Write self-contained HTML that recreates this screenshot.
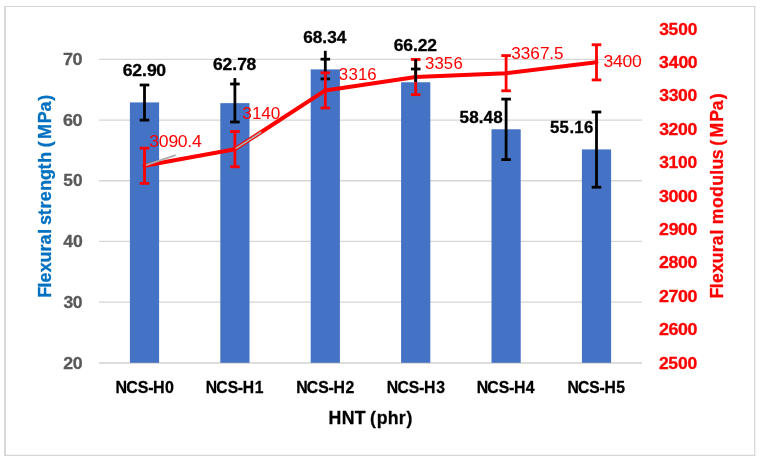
<!DOCTYPE html>
<html><head><meta charset="utf-8"><title>Flexural strength and modulus</title>
<style>
html,body{margin:0;padding:0;background:#fff;}
svg{display:block;font-family:"Liberation Sans",sans-serif;}
</style></head><body>
<svg width="762" height="461" viewBox="0 0 762 461">
<rect width="762" height="461" fill="#fff"/>
<line x1="5" x2="5" y1="5.9" y2="455.9" stroke="#d2d2d2" stroke-width="1.7"/>
<line x1="4.2" x2="755.3" y1="6.5" y2="6.5" stroke="#d6d6d6" stroke-width="1.1"/>
<line x1="754.7" x2="754.7" y1="5.9" y2="455.9" stroke="#d6d6d6" stroke-width="1.25"/>
<line x1="4.2" x2="755.3" y1="455.3" y2="455.3" stroke="#d6d6d6" stroke-width="1.25"/>
<line x1="99.0" x2="642.0" y1="363" y2="363" stroke="#d2d2d2" stroke-width="1.5"/>
<line x1="99.0" x2="642.0" y1="302.18" y2="302.18" stroke="#d6d6d6" stroke-width="1.3"/>
<line x1="99.0" x2="642.0" y1="241.46" y2="241.46" stroke="#d6d6d6" stroke-width="1.3"/>
<line x1="99.0" x2="642.0" y1="180.75" y2="180.75" stroke="#d6d6d6" stroke-width="1.3"/>
<line x1="99.0" x2="642.0" y1="120.03" y2="120.03" stroke="#d6d6d6" stroke-width="1.3"/>
<line x1="99.0" x2="642.0" y1="59.31" y2="59.31" stroke="#d6d6d6" stroke-width="1.3"/>
<rect x="129.90" y="102.42" width="29.2" height="260.38" fill="#4472c4"/>
<rect x="220.30" y="103.15" width="29.2" height="259.65" fill="#4472c4"/>
<rect x="310.70" y="69.39" width="29.2" height="293.41" fill="#4472c4"/>
<rect x="401.10" y="82.26" width="29.2" height="280.54" fill="#4472c4"/>
<rect x="491.50" y="129.26" width="29.2" height="233.54" fill="#4472c4"/>
<rect x="581.90" y="149.41" width="29.2" height="213.39" fill="#4472c4"/>
<line x1="144.50" x2="144.50" y1="85.00" y2="120.10" stroke="#000" stroke-width="2.8"/>
<line x1="139.70" x2="149.30" y1="85.00" y2="85.00" stroke="#000" stroke-width="2.8"/>
<line x1="139.70" x2="149.30" y1="120.10" y2="120.10" stroke="#000" stroke-width="2.8"/>
<line x1="234.90" x2="234.90" y1="78.10" y2="122.00" stroke="#000" stroke-width="2.8"/>
<line x1="230.10" x2="239.70" y1="84.00" y2="84.00" stroke="#000" stroke-width="2.8"/>
<line x1="230.10" x2="239.70" y1="122.00" y2="122.00" stroke="#000" stroke-width="2.8"/>
<line x1="325.30" x2="325.30" y1="50.80" y2="78.90" stroke="#000" stroke-width="2.8"/>
<line x1="320.50" x2="330.10" y1="59.20" y2="59.20" stroke="#000" stroke-width="2.8"/>
<line x1="320.50" x2="330.10" y1="78.90" y2="78.90" stroke="#000" stroke-width="2.8"/>
<line x1="506.10" x2="506.10" y1="99.10" y2="159.60" stroke="#000" stroke-width="2.8"/>
<line x1="501.30" x2="510.90" y1="99.10" y2="99.10" stroke="#000" stroke-width="2.8"/>
<line x1="501.30" x2="510.90" y1="159.60" y2="159.60" stroke="#000" stroke-width="2.8"/>
<line x1="596.50" x2="596.50" y1="112.00" y2="187.20" stroke="#000" stroke-width="2.8"/>
<line x1="591.70" x2="601.30" y1="112.00" y2="112.00" stroke="#000" stroke-width="2.8"/>
<line x1="591.70" x2="601.30" y1="187.20" y2="187.20" stroke="#000" stroke-width="2.8"/>
<polyline points="144.50,165.74 234.90,149.17 325.30,90.40 415.70,77.04 506.10,73.20 596.50,62.34" fill="none" stroke="#ff0000" stroke-width="4" stroke-linejoin="round" stroke-linecap="round"/>
<line x1="144.50" x2="144.50" y1="148.14" y2="183.34" stroke="#ff0000" stroke-width="2.8"/>
<line x1="139.70" x2="149.30" y1="148.14" y2="148.14" stroke="#ff0000" stroke-width="2.8"/>
<line x1="139.70" x2="149.30" y1="183.34" y2="183.34" stroke="#ff0000" stroke-width="2.8"/>
<line x1="234.90" x2="234.90" y1="131.57" y2="166.77" stroke="#ff0000" stroke-width="2.8"/>
<line x1="230.10" x2="239.70" y1="131.57" y2="131.57" stroke="#ff0000" stroke-width="2.8"/>
<line x1="230.10" x2="239.70" y1="166.77" y2="166.77" stroke="#ff0000" stroke-width="2.8"/>
<line x1="325.30" x2="325.30" y1="72.80" y2="108.00" stroke="#ff0000" stroke-width="2.8"/>
<line x1="320.50" x2="330.10" y1="72.80" y2="72.80" stroke="#ff0000" stroke-width="2.8"/>
<line x1="320.50" x2="330.10" y1="108.00" y2="108.00" stroke="#ff0000" stroke-width="2.8"/>
<line x1="415.70" x2="415.70" y1="59.44" y2="94.64" stroke="#ff0000" stroke-width="2.8"/>
<line x1="410.90" x2="420.50" y1="59.44" y2="59.44" stroke="#ff0000" stroke-width="2.8"/>
<line x1="410.90" x2="420.50" y1="94.64" y2="94.64" stroke="#ff0000" stroke-width="2.8"/>
<line x1="506.10" x2="506.10" y1="55.60" y2="90.80" stroke="#ff0000" stroke-width="2.8"/>
<line x1="501.30" x2="510.90" y1="55.60" y2="55.60" stroke="#ff0000" stroke-width="2.8"/>
<line x1="501.30" x2="510.90" y1="90.80" y2="90.80" stroke="#ff0000" stroke-width="2.8"/>
<line x1="596.50" x2="596.50" y1="44.74" y2="79.94" stroke="#ff0000" stroke-width="2.8"/>
<line x1="591.70" x2="601.30" y1="44.74" y2="44.74" stroke="#ff0000" stroke-width="2.8"/>
<line x1="591.70" x2="601.30" y1="79.94" y2="79.94" stroke="#ff0000" stroke-width="2.8"/>
<line x1="415.70" x2="415.70" y1="59.20" y2="82.00" stroke="#000" stroke-width="2.8"/>
<line x1="410.90" x2="420.50" y1="69.00" y2="69.00" stroke="#000" stroke-width="2.8"/>
<line x1="146" y1="165.2" x2="175.7" y2="155.2" stroke="#ababab" stroke-width="1.8"/>
<line x1="235.8" y1="148.6" x2="261.3" y2="132.1" stroke="#ababab" stroke-width="1.8"/>
<text transform="translate(123.33,75.50) scale(1.0278,1)" x="-0.57 8.64 18.07 23.01 32.11" font-size="17.15" font-weight="bold" fill="#000" stroke="#000" stroke-width="0.3">62.90</text>
<text transform="translate(213.72,70.20) scale(1.0214,1)" x="-0.68 8.59 18.07 22.93 32.12" font-size="17.15" font-weight="bold" fill="#000" stroke="#000" stroke-width="0.3">62.78</text>
<text transform="translate(303.98,42.60) scale(1.0066,1)" x="-0.73 8.63 18.26 23.07 32.62" font-size="17.15" font-weight="bold" fill="#000" stroke="#000" stroke-width="0.3">68.34</text>
<text transform="translate(394.47,51.00) scale(1.0220,1)" x="-0.67 8.66 18.07 22.83 32.16" font-size="17.15" font-weight="bold" fill="#000" stroke="#000" stroke-width="0.3">66.22</text>
<text transform="translate(460.08,123.10) scale(0.9917,1)" x="-0.64 9.19 18.93 23.69 33.49" font-size="17.15" font-weight="bold" fill="#000" stroke="#000" stroke-width="0.3">58.48</text>
<text transform="translate(550.51,132.60) scale(0.9771,1)" x="-0.50 9.25 19.33 24.36 34.23" font-size="17.15" font-weight="bold" fill="#000" stroke="#000" stroke-width="0.3">55.16</text>
<text transform="translate(150.05,147.00) scale(1.0508,1)" x="-0.73 8.21 17.55 26.35 35.47 39.99" font-size="16.77" font-weight="normal" fill="#ff0000">3090.4</text>
<text transform="translate(242.97,118.90) scale(1.0254,1)" x="-0.61 8.71 17.91 27.14" font-size="16.77" font-weight="normal" fill="#ff0000">3140</text>
<text transform="translate(339.45,79.80) scale(1.0033,1)" x="-0.58 8.92 18.45 27.82" font-size="16.77" font-weight="normal" fill="#ff0000">3316</text>
<text transform="translate(425.55,68.80) scale(0.9964,1)" x="-0.55 9.01 18.33 28.05" font-size="16.77" font-weight="normal" fill="#ff0000">3356</text>
<text transform="translate(512.15,58.50) scale(1.0235,1)" x="-0.83 8.48 17.70 27.11 36.28 40.82" font-size="16.77" font-weight="normal" fill="#ff0000">3367.5</text>
<text transform="translate(604.22,66.90) scale(1.0466,1)" x="-0.69 8.35 17.39 26.50" font-size="16.77" font-weight="normal" fill="#ff0000">3400</text>
<text transform="translate(63.78,368.50) scale(1.0361,1)" x="-0.59 8.58" font-size="17.15" font-weight="bold" fill="#595959" stroke="#595959" stroke-width="0.3">20</text>
<text transform="translate(63.81,307.78) scale(1.0233,1)" x="-0.39 8.73" font-size="17.15" font-weight="bold" fill="#595959" stroke="#595959" stroke-width="0.3">30</text>
<text transform="translate(63.53,247.06) scale(1.0303,1)" x="-0.37 9.27" font-size="17.15" font-weight="bold" fill="#595959" stroke="#595959" stroke-width="0.3">40</text>
<text transform="translate(63.74,186.35) scale(1.0063,1)" x="-0.53 9.18" font-size="17.15" font-weight="bold" fill="#595959" stroke="#595959" stroke-width="0.3">50</text>
<text transform="translate(63.77,125.63) scale(1.0496,1)" x="-0.68 8.42" font-size="17.15" font-weight="bold" fill="#595959" stroke="#595959" stroke-width="0.3">60</text>
<text transform="translate(63.84,64.91) scale(1.0517,1)" x="-0.75 8.21" font-size="17.15" font-weight="bold" fill="#595959" stroke="#595959" stroke-width="0.3">70</text>
<text transform="translate(659.55,368.50) scale(1.0210,1)" x="-0.57 8.64 18.14 27.47" font-size="17.15" font-weight="bold" fill="#ff0000" stroke="#ff0000" stroke-width="0.3">2500</text>
<text transform="translate(659.55,335.11) scale(1.0428,1)" x="-0.62 8.55 17.65 26.77" font-size="17.15" font-weight="bold" fill="#ff0000" stroke="#ff0000" stroke-width="0.3">2600</text>
<text transform="translate(659.55,301.71) scale(1.0438,1)" x="-0.62 8.60 17.61 26.74" font-size="17.15" font-weight="bold" fill="#ff0000" stroke="#ff0000" stroke-width="0.3">2700</text>
<text transform="translate(659.55,268.31) scale(1.0345,1)" x="-0.59 8.58 17.81 27.02" font-size="17.15" font-weight="bold" fill="#ff0000" stroke="#ff0000" stroke-width="0.3">2800</text>
<text transform="translate(659.55,234.92) scale(1.0303,1)" x="-0.57 8.88 17.98 27.15" font-size="17.15" font-weight="bold" fill="#ff0000" stroke="#ff0000" stroke-width="0.3">2900</text>
<text transform="translate(659.58,201.52) scale(1.0483,1)" x="-0.54 8.55 17.57 26.64" font-size="17.15" font-weight="bold" fill="#ff0000" stroke="#ff0000" stroke-width="0.3">3000</text>
<text transform="translate(659.58,168.13) scale(1.0176,1)" x="-0.37 8.76 18.17 27.54" font-size="17.15" font-weight="bold" fill="#ff0000" stroke="#ff0000" stroke-width="0.3">3100</text>
<text transform="translate(659.58,134.73) scale(1.0296,1)" x="-0.44 8.75 17.93 27.18" font-size="17.15" font-weight="bold" fill="#ff0000" stroke="#ff0000" stroke-width="0.3">3200</text>
<text transform="translate(659.58,101.34) scale(1.0233,1)" x="-0.42 8.98 18.10 27.38" font-size="17.15" font-weight="bold" fill="#ff0000" stroke="#ff0000" stroke-width="0.3">3300</text>
<text transform="translate(659.58,67.94) scale(1.0269,1)" x="-0.68 8.85 18.49 27.52" font-size="17.15" font-weight="bold" fill="#ff0000" stroke="#ff0000" stroke-width="0.3">3400</text>
<text transform="translate(659.58,34.55) scale(1.0148,1)" x="-0.44 8.84 18.31 27.70" font-size="17.15" font-weight="bold" fill="#ff0000" stroke="#ff0000" stroke-width="0.3">3500</text>
<text transform="translate(116.47,393.20) scale(0.9356,1)" x="-1.00 10.49 22.87 33.93 38.93 51.79" font-size="17.15" font-weight="bold" fill="#000" stroke="#000" stroke-width="0.3">NCS-H0</text>
<text transform="translate(206.73,393.20) scale(0.9165,1)" x="-1.02 10.48 22.88 33.96 39.42 52.50" font-size="17.15" font-weight="bold" fill="#000" stroke="#000" stroke-width="0.3">NCS-H1</text>
<text transform="translate(297.20,393.20) scale(0.9244,1)" x="-1.01 10.48 22.88 33.95 39.21 52.24" font-size="17.15" font-weight="bold" fill="#000" stroke="#000" stroke-width="0.3">NCS-H2</text>
<text transform="translate(387.79,393.20) scale(0.9210,1)" x="-1.02 10.48 22.88 33.95 39.30 52.54" font-size="17.15" font-weight="bold" fill="#000" stroke="#000" stroke-width="0.3">NCS-H3</text>
<text transform="translate(477.67,393.20) scale(0.9245,1)" x="-1.01 10.48 22.88 33.95 39.21 52.04" font-size="17.15" font-weight="bold" fill="#000" stroke="#000" stroke-width="0.3">NCS-H4</text>
<text transform="translate(568.41,393.20) scale(0.9158,1)" x="-1.03 10.48 22.88 33.96 39.44 52.28" font-size="17.15" font-weight="bold" fill="#000" stroke="#000" stroke-width="0.3">NCS-H5</text>
<text transform="translate(329.81,423.60) scale(0.9387,1)" x="-1.38 12.83 26.60 27.60 42.79 49.92 61.69 73.55 81.80" font-size="18.88" font-weight="bold" fill="#000" stroke="#000" stroke-width="0.3">HNT (phr)</text>
<text transform="translate(51.10,296.06) rotate(-90) scale(0.9474,1)" x="-1.84 8.98 14.43 25.10 35.35 47.08 54.54 65.66 66.66 74.90 85.34 92.34 100.16 111.10 122.46 133.62 140.73 141.73 157.21 165.76 182.35 194.70 206.25" font-size="18.88" font-weight="bold" fill="#0070c0" stroke="#0070c0" stroke-width="0.3">Flexural strength (MPa)</text>
<text transform="translate(723.10,296.87) rotate(-90) scale(0.9355,1)" x="-1.76 9.16 14.76 25.46 35.91 47.82 55.29 66.56 67.56 77.55 95.07 106.86 118.77 130.64 136.08 147.05 148.05 161.65 170.36 187.26 199.62 211.22" font-size="18.88" font-weight="bold" fill="#ff0000" stroke="#ff0000" stroke-width="0.3">Flexural modulus (MPa)</text>
</svg>
</body></html>
